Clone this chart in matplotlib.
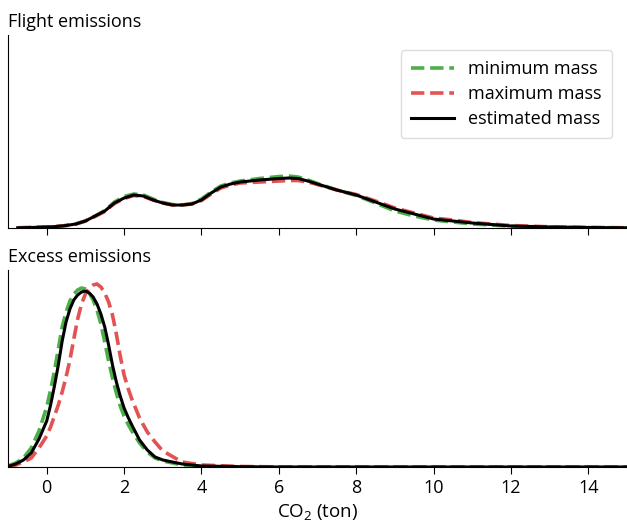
import matplotlib
matplotlib.use('Agg')
import matplotlib.pyplot as plt
import numpy as np

plt.rcParams['font.family'] = ['Open Sans', 'DejaVu Sans']
plt.rcParams['mathtext.default'] = 'regular'

# CO2 (ton) grid and density curves (arbitrary density units)
x_flight = [-0.75, -0.5, 0.0, 0.25, 0.5, 0.75, 1.0, 1.25, 1.5, 1.75, 2.0, 2.25, 2.5,
            2.75, 3.0, 3.25, 3.5, 3.75, 4.0, 4.25, 4.5, 4.75, 5.0, 5.5, 6.0, 6.25,
            6.5, 6.75, 7.0, 7.5, 8.0, 8.5, 9.0, 9.5, 10.0, 10.5, 11.0, 11.5, 12.0,
            13.0, 14.0, 15.0]
flight_min = [0.2, 0.4, 1.0, 1.5, 2.5, 4.0, 7.0, 12.0, 17.5, 26.0, 31.5, 34.0, 33.0,
              29.0, 25.5, 23.5, 23.0, 24.5, 29.0, 36.0, 42.0, 45.0, 47.0, 49.5, 51.5,
              52.0, 51.0, 48.0, 44.5, 38.0, 32.5, 25.0, 17.0, 12.0, 8.0, 6.0, 4.0,
              3.0, 1.8, 0.9, 0.4, 0.2]
flight_max = [0.2, 0.4, 1.0, 1.5, 2.5, 4.0, 7.0, 11.5, 16.5, 24.5, 29.5, 32.5, 31.5,
              28.0, 25.0, 23.0, 23.0, 24.0, 27.5, 34.0, 40.0, 43.0, 45.0, 46.0, 47.0,
              47.5, 47.5, 46.0, 43.5, 38.0, 33.5, 27.0, 20.0, 15.0, 10.0, 8.0, 5.5,
              4.0, 2.5, 1.2, 0.6, 0.2]
flight_est = [0.2, 0.4, 1.0, 1.5, 2.5, 4.0, 7.0, 12.0, 17.0, 25.0, 30.0, 33.0, 32.0,
              28.0, 25.0, 23.0, 23.0, 24.0, 28.0, 35.0, 41.0, 44.0, 46.0, 48.0, 49.5,
              50.0, 49.5, 47.0, 44.0, 38.0, 33.0, 26.0, 19.0, 14.0, 9.0, 7.0, 5.0,
              3.5, 2.0, 1.0, 0.5, 0.2]

x_excess = [-1.0, -0.8, -0.6, -0.4, -0.2, 0.0, 0.1, 0.2, 0.3, 0.4, 0.5, 0.6, 0.7, 0.8,
            0.9, 1.0, 1.1, 1.2, 1.3, 1.4, 1.5, 1.6, 1.7, 1.8, 1.9, 2.0, 2.1, 2.2, 2.4,
            2.6, 2.8, 3.0, 3.5, 4.0, 5.0, 6.0, 8.0, 10.0, 12.0, 14.0, 15.0]
excess_min = [1.0, 4.0, 9.0, 19.0, 36.0, 60.0, 77.0, 96.0, 118.0, 140.0, 155.0, 166.0,
              173.0, 177.0, 179.0, 178.0, 174.0, 167.0, 157.0, 143.0, 125.0, 106.0,
              89.0, 74.0, 61.0, 51.0, 43.0, 36.0, 24.0, 15.0, 9.0, 6.0, 2.0, 0.8, 0.2,
              0.0, 0.0, 0.0, 0.0, 0.0, 0.0]
excess_max = [0.3, 2.0, 5.0, 9.0, 19.0, 31.0, 40.0, 51.0, 62.0, 75.0, 90.0, 107.0,
              128.0, 148.0, 163.0, 173.0, 179.0, 182.0, 183.0, 180.0, 174.0, 165.0,
              152.0, 133.0, 111.0, 92.0, 79.0, 68.0, 49.0, 35.0, 25.0, 16.0, 5.0, 2.0,
              0.5, 0.1, 0.0, 0.0, 0.0, 0.0, 0.0]
excess_est = [0.5, 3.0, 7.0, 14.0, 28.0, 46.0, 62.0, 81.0, 102.0, 126.0, 145.0, 158.0,
              167.0, 172.0, 175.0, 176.0, 174.0, 170.0, 163.0, 153.0, 140.0, 122.0,
              102.0, 85.0, 71.0, 59.0, 50.0, 42.0, 27.0, 17.0, 10.0, 7.0, 3.0, 1.0,
              0.3, 0.0, 0.0, 0.0, 0.0, 0.0, 0.0]

GREEN = '#4daf4a'
RED = '#e35353'

fig = plt.figure(figsize=(6.27, 5.30), dpi=100)
ax1 = fig.add_axes([0.0128, 0.5698, 0.9872, 0.364])
ax2 = fig.add_axes([0.0128, 0.1189, 0.9872, 0.3717], sharex=ax1)

for ax, x, lo, hi, est in [(ax1, x_flight, flight_min, flight_max, flight_est),
                           (ax2, x_excess, excess_min, excess_max, excess_est)]:
    ax.plot(x, lo, '--', color=GREEN, linewidth=2.6, label='minimum mass')
    ax.plot(x, hi, '--', color=RED, linewidth=2.6, label='maximum mass')
    ax.plot(x, est, '-', color='black', linewidth=2.2, label='estimated mass')
    ax.spines['top'].set_visible(False)
    ax.spines['right'].set_visible(False)
    ax.set_yticks([])
    ax.tick_params(axis='x', length=5, labelsize=13)

ax1.set_ylim(0, 193)
ax2.set_ylim(0, 197)
ax1.set_xlim(-1, 15)
ax1.set_xticks(np.arange(0, 15, 2))
ax1.tick_params(axis='x', labelbottom=False)

ax1.set_title('Flight emissions', loc='left', fontsize=13, x=0.0)
ax2.set_title('Excess emissions', loc='left', fontsize=13, x=0.0)
ax2.set_xlabel('CO$_2$ (ton)', fontsize=13.5)

ax1.legend(loc='upper right', fontsize=13, handlelength=2.4, framealpha=1,
           edgecolor='#dddddd', borderpad=0.55, labelspacing=0.4,
           bbox_to_anchor=(0.99, 0.97))

plt.savefig('out.png', dpi=100)
